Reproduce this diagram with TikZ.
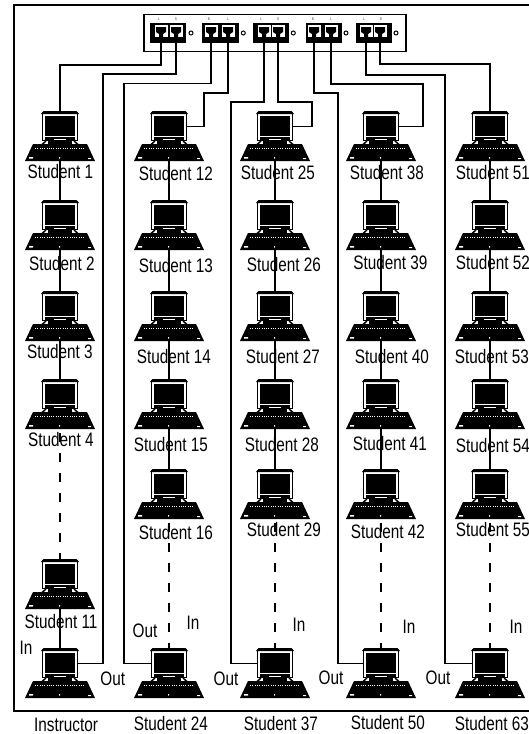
\documentclass[tikz,border=0pt]{standalone}
\usepackage{fontspec}
\setmainfont[FakeStretch=0.785]{Liberation Sans}
\tikzset{
	wire/.style = {line width = 1.6pt},
	dashwire/.style = {line width = 1.6pt, dash pattern = on 9pt off 11pt, dash phase = 16pt},
	monitor/.style = {draw, fill = white, line width = 1.8pt, minimum width = 35pt, minimum height = 28pt, inner sep = 0pt, outer sep = 0pt},
	keyboard/.style = {minimum width = 70pt, minimum height = 17pt, inner sep = 0pt, outer sep = 0pt},
	jack/.style = {draw, fill = white, line width = 1pt, minimum width = 14pt, minimum height = 13pt, inner sep = 0pt, outer sep = 0pt},
	tag/.style = {font = \fontsize{19.5}{20}\selectfont, inner sep = 0pt},
	portmark/.style = {font = \fontsize{4}{4}\selectfont, inner sep = 0pt, text = black!70}
}
\newcommand{\workstation}[3]{
	\node [monitor] (#1) at (#2,#3+15.5) {};
	\node [keyboard] (#1-kb) at (#2,#3+41.5) {};
	\begin{scope}[shift = {(#2,#3)}]
	\fill (-19,3) -- (-16.5,0) -- (16.5,0) -- (19,3) -- cycle;
	\fill (-15.2,4.5) rectangle (15.2,24.5);
	\fill (-15.2,26) rectangle (15.2,30);
	\fill (-12,30) rectangle (12,33);
	\fill [white] (-6,27.6) rectangle (6,29.2);
	\draw [line width = 1.5pt] (-14,30) -- (-18,33.5) (14,30) -- (18,33.5);
	\fill (-27,33) -- (27,33) -- (35,50) -- (-35,50) -- cycle;
	\fill [white] (-31,46) rectangle (-27,47.5) (-1,46) rectangle (0,47.5) (31,47) rectangle (28,48);
	\draw [white, line width = 0.3pt, dotted] (-25,37) -- (25,37);
	\end{scope}
}
\newcommand{\jackface}[1]{
	\begin{scope}[shift = {(#1,31)}]
	\fill (-5,-4) -- (5,-4) -- (5,1) -- (2,3) -- (2,6.5) -- (-2,6.5) -- (-2,3) -- (-5,1) -- cycle;
	\end{scope}
}
\newcommand{\portpair}[5]{
	\fill (#1-1,23) rectangle (#2+1,43);
	\node [jack] (#3) at (#4,30.5) {};
	\node [jack] (#3b) at (#5,30.5) {};
	\jackface{#4}
	\jackface{#5}
}
\begin{document}
\begin{tikzpicture} [x = 1pt, y = -1pt]
	\useasboundingbox (0,0) rectangle (529,734);
	\draw [line width = 1.6pt] (14,5) rectangle (540,711);
	% switch
	\node [draw, line width = 1.3pt, minimum width = 262pt, minimum height = 37pt, inner sep = 0pt] (switch) at (275,33.2) {};
	\portpair{151}{185}{pa}{161}{176}
	\portpair{203}{238}{pc}{211}{228}
	\portpair{254}{288}{pe}{264}{278}
	\portpair{307}{341}{pg}{314}{331}
	\portpair{357}{391}{pi}{366}{380}
	\foreach \x/\n in {191/a, 243.3/b, 293.3/c, 346/d, 396/e}
		\node [draw, circle, line width = 1pt, minimum size = 4pt, inner sep = 0pt] (led\n) at (\x,33) {};
	\foreach \x/\t [count = \i] in {159/L, 176/S, 209/B, 228/L, 261/L, 278/G, 313/B, 331/L, 364/L, 381/D}
		\node [portmark] (mk\i) at (\x,19.5) {\t};
	% computers
	\foreach \n/\x/\y in {s1/60/111, s2/60/200, s3/60/291, s4/60/379, s11/60/559, ins/60/648,
		s12/169/111, s13/169/200, s14/169/291, s15/169/379, s16/169/469, s24/169/648,
		s25/275/111, s26/275/200, s27/275/291, s28/275/379, s29/275/469, s37/275/648,
		s38/381/111, s39/381/200, s40/381/291, s41/381/379, s42/381/469, s50/381/648,
		s51/490/111, s52/490/200, s53/490/291, s54/490/379, s55/490/469, s63/490/648}
		{\workstation{\n}{\x}{\y}}
	% labels
	\foreach \n/\x/\y/\t in {1/60.5/172/1, 2/62/264/2, 3/60/352/3, 4/61/440/4, 11/61/622/11,
		12/176/174/12, 13/176/266/13, 14/174/357/14, 15/171/445/15, 16/176/533/16, 24/171/724/24,
		25/278/173/25, 26/284/265/26, 27/283/357/27, 28/282/445/28, 29/284/530/29, 37/281/724/37,
		38/387/173/38, 39/390.5/263/39, 40/392/357/40, 41/390/444/41, 42/388/532/42, 50/388/723/50,
		51/493/173/51, 52/493/263/52, 53/492/357/53, 54/493/446/54, 55/493/530/55, 63/492/724/63}
		\node [tag] (lab\n) at (\x,\y) {Student \t};
	\node [tag] (labins) at (66,724.5) {Instructor};
	\foreach \n/\x/\y in {a/26/648, b/193/623, c/299/625, d/409/627, e/516/627}
		\node [tag] (in\n) at (\x,\y) {In};
	\foreach \n/\x/\y in {a/112.7/679, b/145/631, c/226/679, d/331/678, e/438/678}
		\node [tag] (out\n) at (\x,\y) {Out};
	% links down each row
	\foreach \a/\b in {s1/s2, s2/s3, s3/s4, s11/ins, s12/s13, s13/s14, s14/s15, s15/s16,
		s25/s26, s26/s27, s27/s28, s28/s29, s38/s39, s39/s40, s40/s41, s41/s42,
		s51/s52, s52/s53, s53/s54, s54/s55}
		\draw [wire] (\a-kb.south) -- (\b.north);
	\foreach \a/\b in {s4/s11, s16/s24, s29/s37, s42/s50, s55/s63}
		\draw [dashwire] (\a-kb.south) -- (\b.north);
	% links to the switch
	\draw [wire] (pa.south) |- (60,65) -- (s1.north);
	\draw [wire] (ins.east) -| (103,74) -| (pab.south);
	\draw [wire] (pc.south) |- (124,83.5) |- (s24.west);
	\draw [wire] (pcb.south) |- (204,92.7) |- (s12.east);
	\draw [wire] (pe.south) |- (230.7,101.7) |- (s37.west);
	\draw [wire] (peb.south) |- (312,101.7) |- (s25.east);
	\draw [wire] (pg.south) |- (338,92.7) |- (s50.west);
	\draw [wire] (pgb.south) |- (422.7,84) |- (s38.east);
	\draw [wire] (pi.south) |- (444.7,74.7) |- (s63.west);
	\draw [wire] (pib.south) |- (490,64) -- (s51.north);
\end{tikzpicture}
\end{document}
